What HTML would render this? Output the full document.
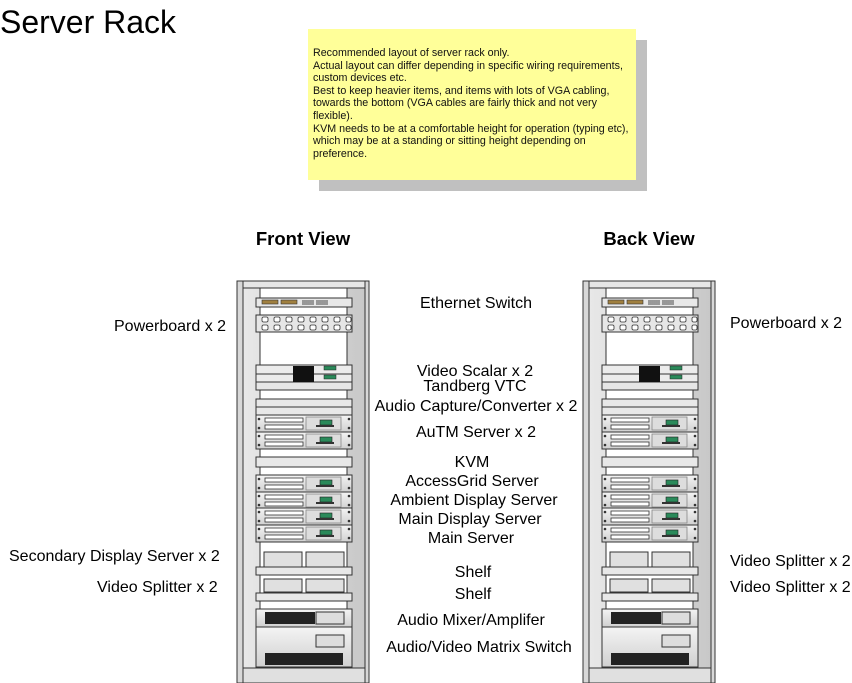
<!DOCTYPE html>
<html><head><style>
body{margin:0;background:#fff;}
svg{display:block;font-family:"Liberation Sans",sans-serif;}
</style></head><body>
<svg width="852" height="683" viewBox="0 0 852 683" xmlns="http://www.w3.org/2000/svg">
<defs>
<linearGradient id="gv" x1="0" y1="0" x2="1" y2="0"><stop offset="0" stop-color="#e8e8e8"/><stop offset="1" stop-color="#c8c8c8"/></linearGradient>
<linearGradient id="gd" x1="0" y1="0" x2="0" y2="1"><stop offset="0" stop-color="#f4f4f4"/><stop offset="1" stop-color="#d0d0d0"/></linearGradient>
<g id="srv">
<rect x="256" y="0" width="96" height="17" fill="url(#gd)" stroke="#333" stroke-width="1"/>
<rect x="265" y="3" width="38" height="4" fill="#fff" stroke="#333" stroke-width="0.8"/>
<rect x="265" y="10" width="38" height="4" fill="#fff" stroke="#333" stroke-width="0.8"/>
<rect x="306" y="2" width="35" height="13" fill="#ddd" stroke="#888" stroke-width="0.8"/>
<rect x="320" y="5" width="12" height="5" fill="#2a8a5a" stroke="#222" stroke-width="0.6"/>
<rect x="316" y="10" width="18" height="2" fill="#333"/>
<circle cx="259" cy="4" r="1.3" fill="#333"/><circle cx="259" cy="13" r="1.3" fill="#333"/>
<circle cx="349" cy="4" r="1.3" fill="#333"/><circle cx="349" cy="13" r="1.3" fill="#333"/>
</g>
<g id="rack">
<rect x="237" y="281" width="132" height="402" fill="#d8d8d8" stroke="#333"/>
<rect x="243" y="281" width="122" height="402" fill="url(#gv)" stroke="#333"/>
<rect x="260" y="288" width="87" height="380" fill="#fff" stroke="#333"/>
<rect x="243" y="281" width="122" height="7" fill="#e6e6e6" stroke="#333"/>
<rect x="243" y="668" width="122" height="15" fill="#e0e0e0" stroke="#333"/>
<rect x="256" y="298" width="96" height="9" fill="#e8e8e8" stroke="#333"/>
<rect x="262" y="300" width="16" height="4" fill="#a08040" stroke="#333" stroke-width="0.6"/>
<rect x="281" y="300" width="16" height="4" fill="#a08040" stroke="#333" stroke-width="0.6"/>
<path d="M303 300v5M305 300v5M307 300v5M309 300v5M311 300v5M313 300v5M317 300v5M319 300v5M321 300v5M323 300v5M325 300v5M327 300v5" stroke="#222" stroke-width="0.8"/>
<rect x="256" y="315" width="96" height="17" fill="#e6e6e6" stroke="#333"/>
<g fill="#fff" stroke="#333" stroke-width="0.8">
<rect x="262" y="317" width="6" height="5" rx="1.5"/><rect x="274" y="317" width="6" height="5" rx="1.5"/><rect x="286" y="317" width="6" height="5" rx="1.5"/><rect x="298" y="317" width="6" height="5" rx="1.5"/><rect x="310" y="317" width="6" height="5" rx="1.5"/><rect x="322" y="317" width="6" height="5" rx="1.5"/><rect x="334" y="317" width="6" height="5" rx="1.5"/><rect x="346" y="317" width="5" height="5" rx="1.5"/>
<rect x="262" y="325" width="6" height="5" rx="1.5"/><rect x="274" y="325" width="6" height="5" rx="1.5"/><rect x="286" y="325" width="6" height="5" rx="1.5"/><rect x="298" y="325" width="6" height="5" rx="1.5"/><rect x="310" y="325" width="6" height="5" rx="1.5"/><rect x="322" y="325" width="6" height="5" rx="1.5"/><rect x="334" y="325" width="6" height="5" rx="1.5"/><rect x="346" y="325" width="5" height="5" rx="1.5"/>
</g>
<rect x="256" y="365" width="96" height="9" fill="#ececec" stroke="#333"/>
<rect x="256" y="374" width="96" height="8" fill="#ececec" stroke="#333"/>
<rect x="256" y="382" width="96" height="8" fill="#e6e6e6" stroke="#333"/>
<rect x="293" y="366" width="21" height="16" fill="#111"/>
<rect x="324" y="366" width="12" height="4" fill="#2a8a5a" stroke="#222" stroke-width="0.5"/>
<rect x="324" y="375" width="12" height="4" fill="#2a8a5a" stroke="#222" stroke-width="0.5"/>
<rect x="256" y="399" width="96" height="8" fill="#e8e8e8" stroke="#333"/>
<rect x="256" y="407" width="96" height="8" fill="#e8e8e8" stroke="#333"/>
<use href="#srv" transform="translate(0,415)"/>
<use href="#srv" transform="translate(0,432)"/>
<rect x="256" y="457" width="96" height="10" fill="#e8e8e8" stroke="#333"/>
<use href="#srv" transform="translate(0,475)"/>
<use href="#srv" transform="translate(0,492)"/>
<use href="#srv" transform="translate(0,508)"/>
<use href="#srv" transform="translate(0,525)"/>
<rect x="264" y="552" width="38" height="15" fill="#e0e0e0" stroke="#333"/>
<rect x="306" y="552" width="38" height="15" fill="#e0e0e0" stroke="#333"/>
<rect x="256" y="567" width="96" height="8" fill="#e8e8e8" stroke="#333"/>
<rect x="264" y="579" width="38" height="13" fill="#e0e0e0" stroke="#333"/>
<rect x="306" y="579" width="38" height="13" fill="#e0e0e0" stroke="#333"/>
<rect x="256" y="593" width="96" height="8" fill="#e8e8e8" stroke="#333"/>
<rect x="256" y="609" width="96" height="18" fill="url(#gd)" stroke="#333"/>
<rect x="265" y="612" width="50" height="12" fill="#222"/>
<rect x="316" y="612" width="28" height="12" fill="#ddd" stroke="#333"/>
<rect x="256" y="627" width="96" height="40" fill="url(#gd)" stroke="#333"/>
<rect x="316" y="635" width="28" height="12" fill="#ddd" stroke="#333"/>
<rect x="265" y="653" width="78" height="12" fill="#222"/>
</g>
</defs>

<text x="0" y="33" font-size="32">Server Rack</text>

<rect x="319" y="40" width="328" height="151" fill="#c0c0c0"/>
<rect x="308" y="29" width="328" height="151" fill="#ffff99"/>
<g font-size="10.7" fill="#111">
<text x="313" y="56">Recommended layout of server rack only.</text>
<text x="313" y="69">Actual layout can differ depending in specific wiring requirements,</text>
<text x="313" y="81">custom devices etc.</text>
<text x="313" y="94">Best to keep heavier items, and items with lots of VGA cabling,</text>
<text x="313" y="106">towards the bottom (VGA cables are fairly thick and not very</text>
<text x="313" y="119">flexible).</text>
<text x="313" y="132">KVM needs to be at a comfortable height for operation (typing etc),</text>
<text x="313" y="144">which may be at a standing or sitting height depending on</text>
<text x="313" y="157">preference.</text>
</g>

<text x="303" y="245" font-size="18.5" font-weight="bold" text-anchor="middle">Front View</text>
<text x="649" y="245" font-size="18.5" font-weight="bold" text-anchor="middle">Back View</text>

<use href="#rack"/>
<use href="#rack" transform="translate(346,0)"/>

<g font-size="16" text-anchor="middle">
<text x="476" y="308">Ethernet Switch</text>
<text x="475" y="376">Video Scalar x 2</text>
<text x="475" y="391">Tandberg VTC</text>
<text x="476" y="411">Audio Capture/Converter x 2</text>
<text x="476" y="437">AuTM Server x 2</text>
<text x="472" y="467">KVM</text>
<text x="472" y="486">AccessGrid Server</text>
<text x="474" y="505">Ambient Display Server</text>
<text x="470" y="524">Main Display Server</text>
<text x="471" y="543">Main Server</text>
<text x="473" y="577">Shelf</text>
<text x="473" y="599">Shelf</text>
<text x="471" y="625">Audio Mixer/Amplifer</text>
<text x="479" y="652">Audio/Video Matrix Switch</text>
</g>
<g font-size="16">
<text x="114" y="331">Powerboard x 2</text>
<text x="9" y="561">Secondary Display Server x 2</text>
<text x="97" y="592">Video Splitter x 2</text>
<text x="730" y="328">Powerboard x 2</text>
<text x="730" y="566">Video Splitter x 2</text>
<text x="730" y="592">Video Splitter x 2</text>
</g>
</svg>
</body></html>
